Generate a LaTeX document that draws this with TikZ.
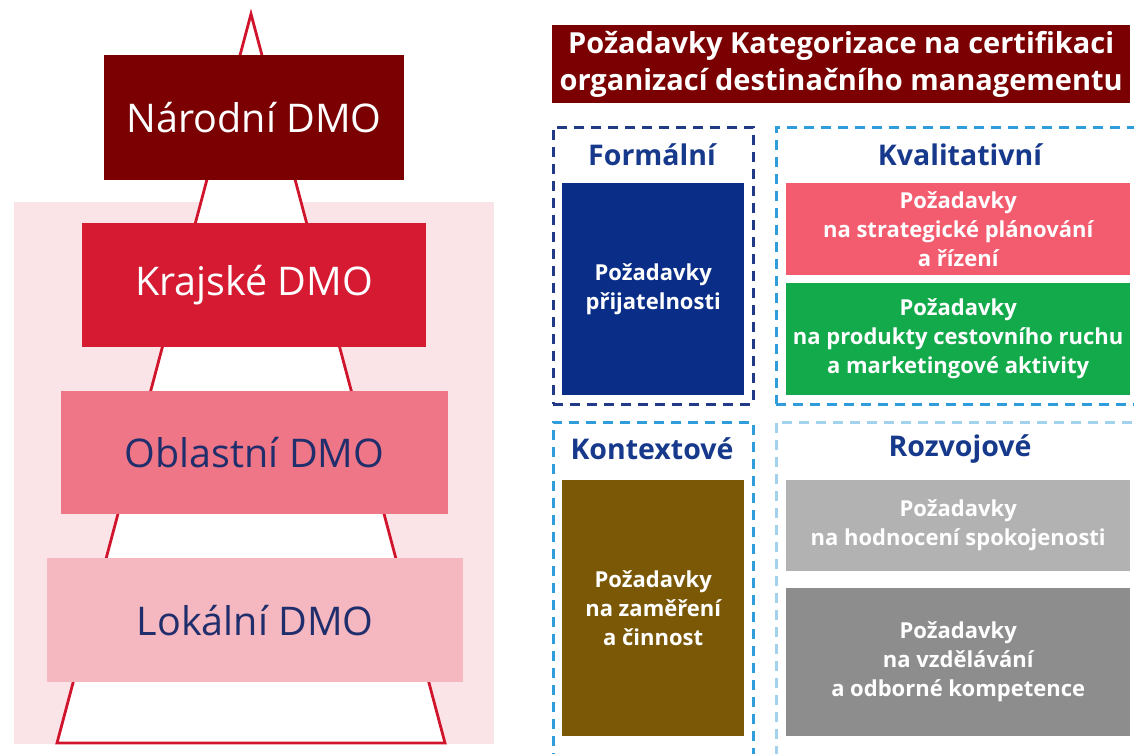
\documentclass[tikz,border=0pt]{standalone}
\usepackage{fontspec}
\setmainfont{Open Sans}
\usetikzlibrary{positioning}
\definecolor{national}{HTML}{7A0002}
\definecolor{regional}{HTML}{D51A32}
\definecolor{area}{HTML}{EF7686}
\definecolor{local}{HTML}{F5B8C1}
\definecolor{pinkbg}{HTML}{FBE4E8}
\definecolor{pyramid}{HTML}{D0142C}
\definecolor{dmotext}{HTML}{212E6C}
\definecolor{headblue}{HTML}{17398C}
\definecolor{formal}{HTML}{203A86}
\definecolor{lightdash}{HTML}{2F9CDB}
\definecolor{paledash}{HTML}{A3D2EE}
\definecolor{reqblue}{HTML}{0A2E88}
\definecolor{reqpink}{HTML}{F35B6F}
\definecolor{reqgreen}{HTML}{13AA4B}
\definecolor{reqbrown}{HTML}{7A5806}
\definecolor{reqgrey}{HTML}{B2B2B2}
\definecolor{reqdark}{HTML}{8D8D8D}
\tikzset{
  % node options
  box/.style={rectangle,inner sep=0pt,anchor=north west,align=center},
  level/.style={box,font=\fontsize{39.5}{44}\selectfont},
  levelLight/.style={level,text=white},
  levelDark/.style={level,text=dmotext},
  req/.style={box,text=white,font=\bfseries\fontsize{22}{29}\selectfont},
  group/.style={box,line width=2.8pt,dash pattern=on 10pt off 7pt},
  heading/.style={font=\bfseries\fontsize{28.5}{32}\selectfont,text=headblue},
  title/.style={box,fill=national,text=white,font=\bfseries\fontsize{29}{37}\selectfont},
  % path options
  edge/.style={draw=pyramid,line width=2.8pt,fill=white,line join=miter},
}
\begin{document}
\begin{tikzpicture}[x=1pt,y=-1pt]
  \useasboundingbox[fill=white] (0,0) rectangle (1134,754);
  % pyramid of DMO levels
  \fill[pinkbg] (14,202) rectangle (494,744);
  \coordinate (apex) at (251,14);
  \coordinate (baseL) at (57,743);
  \coordinate (baseR) at (445,743);
  \path[edge] (apex) -- (baseR) -- (baseL) -- cycle;
  \node[levelLight,fill=national,minimum width=300pt,minimum height=125pt] (narodni) at (104,55) {Národní DMO};
  \node[levelLight,fill=regional,minimum width=344pt,minimum height=124pt] (krajske) at (82,223) {Krajské DMO};
  \node[levelDark,fill=area,minimum width=387pt,minimum height=123pt] (oblastni) at (61,391) {Oblastní DMO};
  \node[levelDark,fill=local,minimum width=416pt,minimum height=124pt] (lokalni) at (47,558) {Lokální DMO};
  % certification requirements
  \node[title,minimum width=578pt,minimum height=78pt] (cert) at (552,25)
    {Požadavky Kategorizace na certifikaci\\organizací destinačního managementu};
  \node[group,draw=formal,minimum width=200pt,minimum height=277pt] (formalni) at (552,126) {};
  \node[group,draw=lightdash,minimum width=365pt,minimum height=277pt] (kvalit) at (775,126) {};
  \node[group,draw=lightdash,minimum width=200pt,minimum height=340pt] (kontext) at (552,421) {};
  \node[group,draw=paledash,minimum width=365pt,minimum height=340pt] (rozvoj) at (775,421) {};
  \node[heading] (hFormal) at (652,155) {Formální};
  \node[heading] (hKvalit) at (960,155) {Kvalitativní};
  \node[heading] (hKontext) at (652,449) {Kontextové};
  \node[heading] (hRozvoj) at (960,449) {Rozvojové};
  \node[req,fill=reqblue,minimum width=182pt,minimum height=212pt] (prijat) at (562,183)
    {Požadavky\\přijatelnosti};
  \node[req,fill=reqpink,minimum width=344pt,minimum height=92pt] (strateg) at (786,183)
    {Požadavky\\na strategické plánování\\a řízení};
  \node[req,fill=reqgreen,minimum width=344pt,minimum height=112pt] (produkt) at (786,283)
    {Požadavky\\na produkty cestovního ruchu\\a marketingové aktivity};
  \node[req,fill=reqbrown,minimum width=182pt,minimum height=256pt] (zamer) at (562,480)
    {Požadavky\\na zaměření\\a činnost};
  \node[req,fill=reqgrey,minimum width=344pt,minimum height=91pt] (spokoj) at (786,480)
    {Požadavky\\na hodnocení spokojenosti};
  \node[req,fill=reqdark,minimum width=344pt,minimum height=148pt] (vzdel) at (786,588)
    {Požadavky\\na vzdělávání\\a odborné kompetence};
\end{tikzpicture}
\end{document}
